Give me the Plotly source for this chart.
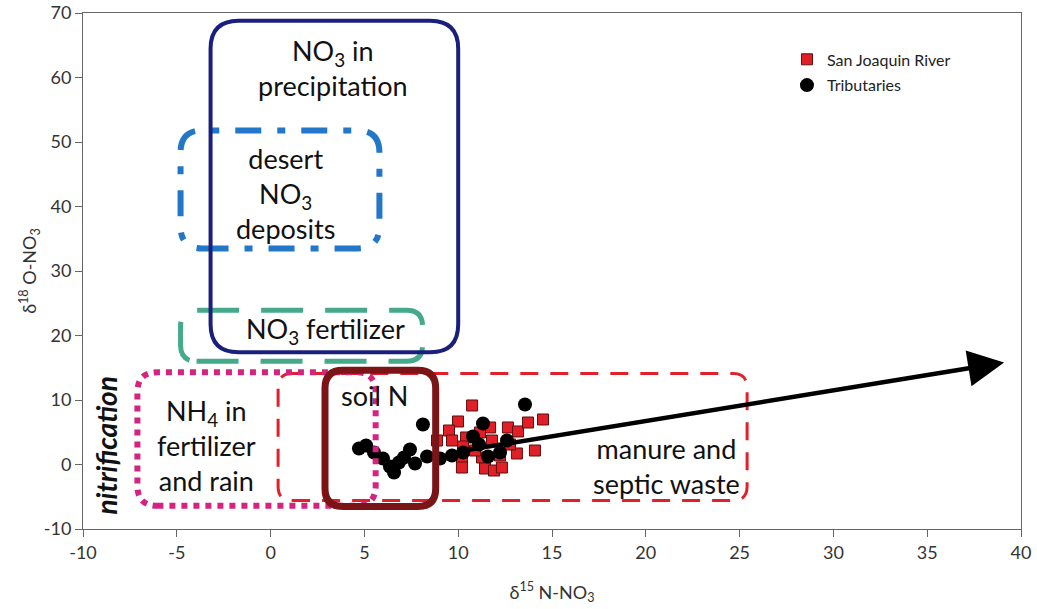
import plotly.graph_objects as go

# San Joaquin River (red squares)
sjr_n15 = [10.74, 9.99, 9.51, 9.67, 8.87, 10.42, 10.26, 11.70, 11.80, 12.65, 13.19, 13.72, 14.52,
           14.09, 13.13, 10.20, 10.20, 11.27, 11.43, 11.91, 12.33, 12.23, 10.90, 12.76, 11.16]
sjr_o18 = [9.15, 6.67, 5.27, 3.72, 3.72, 4.19, 2.79, 5.74, 3.72, 5.74, 5.12, 6.51, 6.98,
           2.17, 1.71, 0.93, -0.47, 1.09, -0.62, -0.93, -0.47, 1.40, 2.17, 3.10, 4.96]

# Tributaries (black circles)
trib_n15 = [4.71, 5.09, 5.51, 5.99, 6.36, 6.58, 6.84, 7.11, 7.43, 7.70, 8.12, 8.34, 9.03,
            9.67, 10.26, 10.79, 11.11, 11.32, 11.59, 12.23, 12.60, 13.56]
trib_o18 = [2.48, 2.95, 1.86, 0.93, -0.31, -1.24, 0.31, 1.09, 2.33, 0.16, 6.20, 1.24, 0.93,
            1.40, 1.86, 4.34, 3.10, 6.36, 1.24, 1.86, 3.72, 9.30]

# source regions: x0, x1, y0, y1 (delta15N, delta18O)
box_precip = [-3.2, 10.0, 17.4, 68.8]
box_desert = [-4.8, 5.8, 33.5, 51.8]
box_fert = [-4.8, 8.1, 16.0, 23.9]
box_nh4 = [-7.1, 5.6, -6.4, 14.3]
box_manure = [0.4, 25.4, -5.6, 14.1]
box_soil = [2.9, 8.8, -6.5, 14.6]

# trend arrow (tail, head)
arrow_x = [10.4, 39.1]
arrow_y = [2.2, 15.8]

x_ticks = [-10, -5, 0, 5, 10, 15, 20, 25, 30, 35, 40]
y_ticks = [-10, 0, 10, 20, 30, 40, 50, 60, 70]

XPX = 18.76  # px per unit on x
YPX = 6.45   # px per unit on y
FONT = 'Lato, Open Sans, sans-serif'


def rounded_box(b, r):
    x0, x1, y0, y1 = b
    rx, ry = r / XPX, r / YPX
    return (f"M {x0+rx},{y0} L {x1-rx},{y0} Q {x1},{y0} {x1},{y0+ry} "
            f"L {x1},{y1-ry} Q {x1},{y1} {x1-rx},{y1} L {x0+rx},{y1} "
            f"Q {x0},{y1} {x0},{y1-ry} L {x0},{y0+ry} Q {x0},{y0} {x0+rx},{y0} Z")


fig = go.Figure()

fig.add_trace(go.Scatter(
    x=sjr_n15, y=sjr_o18, mode='markers', name='San Joaquin River',
    legendgroup='a',
    marker=dict(symbol='square', size=11, color='#e01f26',
                line=dict(color='#5a1010', width=1))
))
fig.add_trace(go.Scatter(
    x=trib_n15, y=trib_o18, mode='markers', name='Tributaries',
    legendgroup='b',
    marker=dict(symbol='circle', size=14, color='black')
))

boxes = [
    (box_desert, 22, '#2277c9', 6, '26px,16px,8px,16px'),
    (box_fert, 16, '#45a98b', 5, '42px,22px'),
    (box_precip, 28, '#1b1f7c', 4, 'solid'),
    (box_manure, 14, '#e0202a', 3, '18px,12px'),
    (box_nh4, 20, '#d42380', 6, '6px,6px'),
    (box_soil, 18, '#7b1416', 7, 'solid'),
]
for b, r, col, w, dash in boxes:
    fig.add_shape(type='path', path=rounded_box(b, r), xref='x', yref='y',
                  line=dict(color=col, width=w, dash=dash), layer='above')

labels = [
    ("NO<sub>3</sub> in<br>precipitation", 3.3, 61.4),
    ("desert<br>NO<sub>3</sub><br>deposits", 0.8, 42.0),
    ("NO<sub>3</sub> fertilizer", 2.95, 20.7),
    ("NH<sub>4</sub> in<br>fertilizer<br>and rain", -3.42, 2.9),
    ("soil N", 5.56, 10.7),
    ("manure and<br>septic waste", 21.1, -0.2),
]
for t, x, y in labels:
    fig.add_annotation(x=x, y=y, text=t, showarrow=False, align='center',
                       font=dict(family=FONT, size=27, color='#111'))

fig.add_annotation(x=-8.75, y=3.0, text='<b><i>nitrification</i></b>', textangle=-90,
                   showarrow=False, font=dict(family=FONT, size=28, color='#111'))

fig.add_annotation(x=arrow_x[1], y=arrow_y[1], ax=arrow_x[0], ay=arrow_y[0],
                   xref='x', yref='y', axref='x', ayref='y', text='',
                   showarrow=True, arrowhead=2, arrowsize=1.6, arrowwidth=4.5,
                   arrowcolor='black')

axis_style = dict(
    showline=True, linecolor='#666', linewidth=1, mirror=True,
    ticks='outside', ticklen=7, tickcolor='#666',
    showgrid=False, zeroline=False, automargin=False, ticklabeloverflow='allow',
    tickfont=dict(family=FONT, size=18, color='#333'),
)

fig.update_layout(
    width=1037, height=609,
    margin=dict(l=83, r=16, t=13, b=80),
    paper_bgcolor='white', plot_bgcolor='white',
    xaxis=dict(range=[-10, 40], tickvals=x_ticks, ticktext=[str(v) for v in x_ticks],
               title=dict(text='δ<sup>15</sup> N-NO<sub>3</sub>', standoff=24,
                          font=dict(family=FONT, size=18, color='#333')),
               **axis_style),
    yaxis=dict(range=[-10, 70], tickvals=y_ticks, ticktext=[str(v) for v in y_ticks],
               title=dict(text='δ<sup>18</sup> O-NO<sub>3</sub>', standoff=2,
                          font=dict(family=FONT, size=18, color='#333')),
               **axis_style),
    legend=dict(x=0.7505, y=0.943, xanchor='left', yanchor='top',
                font=dict(family=FONT, size=16, color='#222'),
                tracegroupgap=2, bgcolor='rgba(0,0,0,0)'),
    showlegend=True,
)

# page body has a default 8px margin; drop it so the figure fills the window
fig.write_html("out.html", config={'displayModeBar': False},
               post_script="document.body.style.margin='0';")
